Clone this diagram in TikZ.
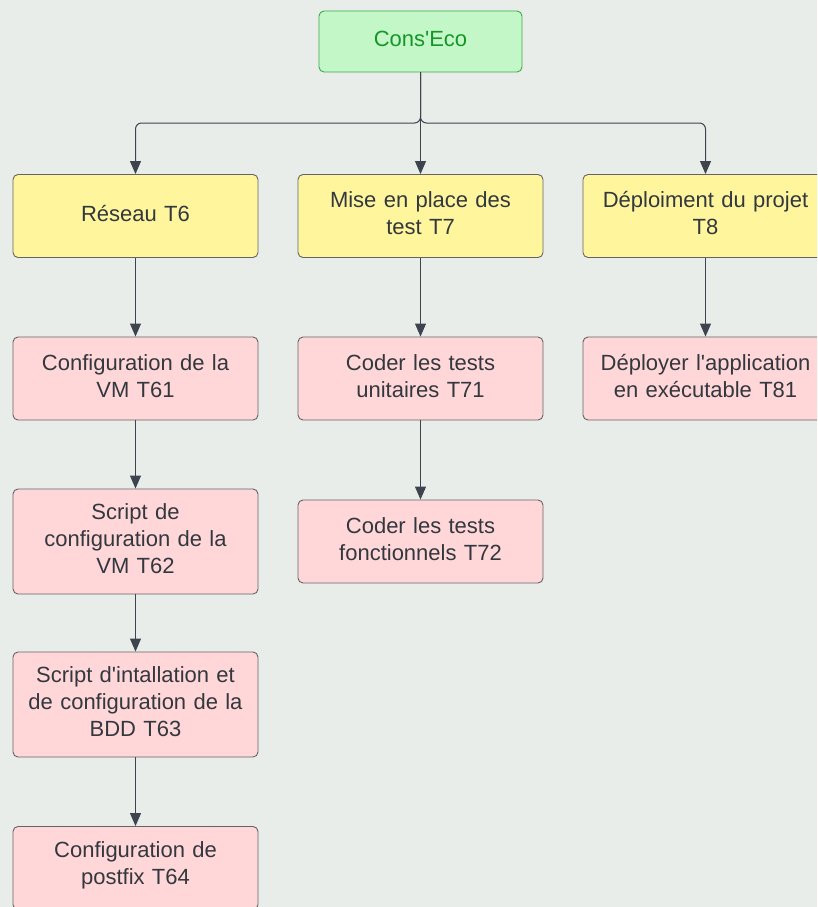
\documentclass[tikz,border=0pt]{standalone}
\usepackage{fontspec}
\setmainfont{Liberation Sans}
\usetikzlibrary{arrows.meta}
\definecolor{bg}{RGB}{233,237,234}
\definecolor{yel}{RGB}{255,245,157}
\definecolor{pnk}{RGB}{255,215,217}
\definecolor{grn}{RGB}{196,247,200}
\definecolor{grnb}{RGB}{58,170,74}
\definecolor{grnt}{RGB}{22,150,40}
\definecolor{bord}{RGB}{100,100,100}
\definecolor{txt}{RGB}{50,56,62}
\definecolor{line}{RGB}{62,68,78}
\newcommand{\q}{\textquotesingle}
\tikzset{
  box/.style={draw=bord, line width=0.9pt, rounded corners=5pt, minimum width=245pt, minimum height=83pt, text width=225pt, align=center, text=txt, font=\fontsize{22}{27}\selectfont, inner sep=0pt, execute at end node={\par\vspace*{5pt}}},
  yelbox/.style={box, fill=yel},
  pnkbox/.style={box, fill=pnk},
  tallbox/.style={pnkbox, minimum height=105pt},
  grnbox/.style={draw=grnb, line width=0.9pt, fill=grn, rounded corners=5pt, minimum width=203pt, minimum height=61pt, text=grnt, font=\fontsize{22}{27}\selectfont, inner sep=0pt, text width=190pt, align=center, execute at end node={\par\vspace*{5pt}}},
  conn/.style={draw=line, line width=1pt, -{Triangle[width=11pt,length=13pt]}, line join=round}
}
\begin{document}
\begin{tikzpicture}[x=1pt,y=-1pt]
\fill[bg] (0,0) rectangle (817,907);
\useasboundingbox (0,0) rectangle (817,907);
\clip (0,0) rectangle (817,907);
\node[grnbox] (cons) at (420.5,41.5) {Cons\q Eco};
\node[yelbox] (t6) at (135.5,216) {Réseau T6};
\node[yelbox] (t7) at (420.5,216) {Mise en place des\\test T7};
\node[yelbox] (t8) at (705.5,216) {Déploiment du projet\\T8};
\node[pnkbox] (t61) at (135.5,378.5) {Configuration de la\\VM T61};
\node[pnkbox] (t71) at (420.5,378.5) {Coder les tests\\unitaires T71};
\node[pnkbox] (t81) at (705.5,378.5) {Déployer l\q application\\en exécutable T81};
\node[tallbox] (t62) at (135.5,541.5) {Script de\\configuration de la\\VM T62};
\node[pnkbox] (t72) at (420.5,541.5) {Coder les tests\\fonctionnels T72};
\node[tallbox] (t63) at (135.5,704.5) {Script d\q intallation et\\de configuration de la\\BDD T63};
\node[pnkbox] (t64) at (135.5,868) {Configuration de\\postfix T64};
\coordinate (j) at (420.5,123);
\draw[conn, rounded corners=6pt] (cons.south) -- (j) -| (t6.north);
\draw[conn, rounded corners=6pt] (cons.south) -- (j) -| (t8.north);
\draw[conn] (cons.south) -- (t7.north);
\draw[conn] (t6) -- (t61);
\draw[conn] (t61) -- (t62);
\draw[conn] (t62) -- (t63);
\draw[conn] (t63) -- (t64);
\draw[conn] (t7) -- (t71);
\draw[conn] (t71) -- (t72);
\draw[conn] (t8) -- (t81);
\end{tikzpicture}
\end{document}
